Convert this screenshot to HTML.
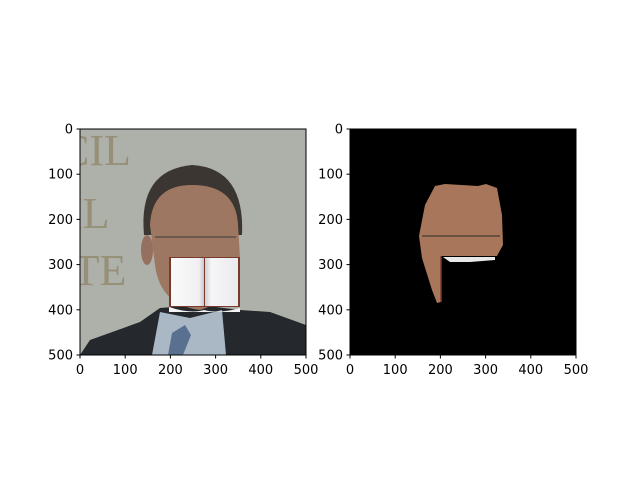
<!DOCTYPE html>
<html><head><meta charset="utf-8"><style>
html,body{margin:0;padding:0;background:#fff;}
svg{display:block;font-family:"DejaVu Sans","Liberation Sans",sans-serif;}
</style></head><body>
<svg width="640" height="480" viewBox="0 0 640 480">
<defs>
<linearGradient id="pg" x1="0" x2="1"><stop offset="0" stop-color="#fafafa"/><stop offset="0.85" stop-color="#f0f0f2"/><stop offset="1" stop-color="#c8c8d0"/></linearGradient>
<linearGradient id="pg2" x1="0" x2="1"><stop offset="0" stop-color="#d0d0d8"/><stop offset="0.2" stop-color="#f6f6f8"/><stop offset="1" stop-color="#eaeaee"/></linearGradient>
<clipPath id="cl"><rect x="80" y="129" width="226" height="226"/></clipPath>
</defs>
<g clip-path="url(#cl)">
<rect x="80" y="129" width="226" height="226" fill="#aeb0aa"/>
<g font-family="Liberation Serif, serif" font-size="44" fill="#969078">
<text x="60" y="165">CIL</text><text x="68" y="228">IL</text><text x="58" y="285">ITE</text>
</g>
<path d="M80 355 L90 340 L140 322 L160 308 L200 305 L240 310 L270 312 L306 325 L306 355 Z" fill="#25282c"/>
<path d="M152 355 L160 312 L190 318 L222 310 L226 355 Z" fill="#aab8c6"/>
<path d="M168 355 L172 333 L185 325 L191 335 L183 355 Z" fill="#5a7090"/>
<path d="M144 235 Q138 170 192 165 Q245 168 242 235 Z" fill="#3c3632"/>
<path d="M150 225 Q152 185 192 185 Q236 185 238 225 L240 258 Q235 300 200 310 Q160 305 155 265 Z" fill="#9e7763"/>
<ellipse cx="147" cy="250" rx="6" ry="15" fill="#957060"/>
<path d="M155 237 L236 237" stroke="#6a5a50" stroke-width="2" fill="none"/>
<rect x="169" y="257" width="71" height="50" fill="#7a3a2a"/>
<rect x="171" y="258" width="33" height="48" fill="url(#pg)"/>
<rect x="205" y="258" width="33" height="48" fill="url(#pg2)"/>
<path d="M169 307 Q190 314 204 310 Q220 314 240 308 L240 312 L169 312 Z" fill="#f4f4f4"/>
</g>
<g>
<rect x="350" y="129" width="226" height="226" fill="#000"/>
<path d="M435 186 L445 184 L478 186 L486 184 L497 188 L502 215 L503 245 L498 254 L497 256 L441 256 L441 302 L437 303 L432 290 L422 258 L419 236 L425 205 Z" fill="#a8765a"/>
<path d="M422 236 L500 236" stroke="#6a5040" stroke-width="2"/>
<path d="M443 257 L495 257 L495 260 L470 262 L450 262 Z" fill="#e8e8e8"/>
<line x1="441" y1="256" x2="441" y2="302" stroke="#7a3a2a" stroke-width="1.5"/>
</g>
<rect x="80" y="129" width="226" height="226" fill="none" stroke="#000" stroke-width="1"/>
<rect x="350" y="129" width="226" height="226" fill="none" stroke="#000" stroke-width="1"/>
<g id="ticks" font-size="13" fill="#000"></g>
</svg>
<script>
const tickValues = [0, 100, 200, 300, 400, 500];
const tickLabels = ["0", "100", "200", "300", "400", "500"];
const axesLeft = [80, 350];
const g = document.getElementById('ticks');
const NS = 'http://www.w3.org/2000/svg';
function sx(v, x0){ return x0 + v / 500 * 226; }
function sy(v){ return 129 + v / 500 * 226; }
axesLeft.forEach(x0 => {
  tickValues.forEach((v, i) => {
    const X = sx(v, x0);
    let l = document.createElementNS(NS, 'line');
    l.setAttribute('x1', X); l.setAttribute('x2', X); l.setAttribute('y1', 355); l.setAttribute('y2', 358.5);
    l.setAttribute('stroke', '#000');
    
    
    g.appendChild(l);
    let t = document.createElementNS(NS, 'text');
    t.setAttribute('x', X); t.setAttribute('y', 374); t.setAttribute('text-anchor', 'middle');
    t.textContent = tickLabels[i];
    
    
    g.appendChild(t);
    const Y = sy(v);
    let l2 = document.createElementNS(NS, 'line');
    l2.setAttribute('x1', x0 - 3.5); l2.setAttribute('x2', x0); l2.setAttribute('y1', Y); l2.setAttribute('y2', Y);
    l2.setAttribute('stroke', '#000');
    
    
    g.appendChild(l2);
    let t2 = document.createElementNS(NS, 'text');
    t2.setAttribute('x', x0 - 7); t2.setAttribute('y', Y + 4.5); t2.setAttribute('text-anchor', 'end');
    t2.textContent = tickLabels[i];
    
    
    g.appendChild(t2);
  });
});
</script>
</body></html>
